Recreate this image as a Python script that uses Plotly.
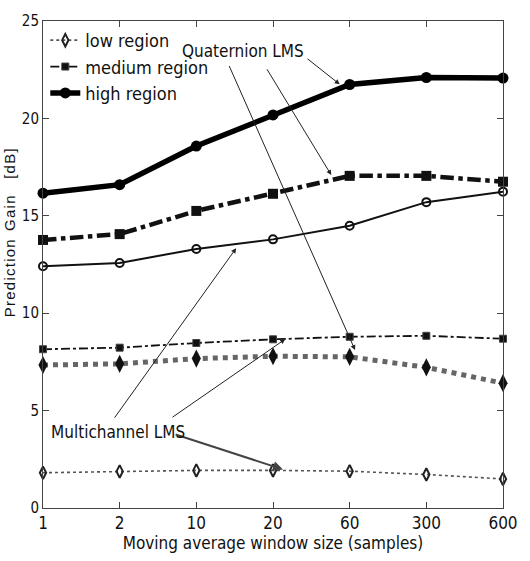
import plotly.graph_objects as go

window_sizes = ["1", "2", "10", "20", "60", "300", "600"]

quat_low = [7.34, 7.40, 7.67, 7.79, 7.76, 7.22, 6.41]
quat_medium = [13.76, 14.06, 15.25, 16.13, 17.05, 17.05, 16.75]
quat_high = [16.16, 16.60, 18.58, 20.18, 21.74, 22.10, 22.07]

multi_low = [1.81, 1.88, 1.93, 1.93, 1.89, 1.72, 1.49]
multi_medium = [8.15, 8.23, 8.47, 8.66, 8.79, 8.84, 8.69]
multi_high = [12.41, 12.58, 13.30, 13.79, 14.49, 15.70, 16.24]

y_ticks = [0, 5, 10, 15, 20, 25]

FONT = "DejaVu Sans Condensed, Liberation Sans Narrow, Arial Narrow, sans-serif"

fig = go.Figure()

# Multichannel LMS (thin lines, open markers)
fig.add_trace(go.Scatter(
    x=window_sizes, y=multi_low, mode="lines+markers", name="low region",
    line=dict(color="#555555", width=1.6, dash="dot"),
    marker=dict(symbol="diamond-tall-open", size=9, color="#222222", line=dict(width=2)),
    cliponaxis=False, legendrank=1))
fig.add_trace(go.Scatter(
    x=window_sizes, y=multi_medium, mode="lines+markers", name="medium region",
    line=dict(color="#111111", width=1.8, dash="dashdot"),
    marker=dict(symbol="square", size=7, color="#111111", line=dict(width=1)),
    cliponaxis=False, legendrank=2))
fig.add_trace(go.Scatter(
    x=window_sizes, y=multi_high, mode="lines+markers", name="high region",
    line=dict(color="#111111", width=2),
    marker=dict(symbol="circle-open", size=8, color="#111111", line=dict(width=2)),
    cliponaxis=False, showlegend=False))

# Quaternion LMS (thick lines, filled markers)
fig.add_trace(go.Scatter(
    x=window_sizes, y=quat_low, mode="lines+markers", name="low region",
    line=dict(color="#666666", width=5, dash="dot"),
    marker=dict(symbol="diamond-tall", size=13, color="#111111"),
    cliponaxis=False, showlegend=False))
fig.add_trace(go.Scatter(
    x=window_sizes, y=quat_medium, mode="lines+markers", name="medium region",
    line=dict(color="#111111", width=4.5, dash="dashdot"),
    marker=dict(symbol="square", size=10, color="#111111"),
    cliponaxis=False, showlegend=False))
fig.add_trace(go.Scatter(
    x=window_sizes, y=quat_high, mode="lines+markers", name="high region",
    line=dict(color="#000000", width=5.5),
    marker=dict(symbol="circle", size=11, color="#000000"),
    cliponaxis=False, legendrank=3))

arrow_style = dict(showarrow=True, arrowhead=2, arrowsize=1, arrowwidth=1,
                   arrowcolor="#222222", axref="x", ayref="y", xref="x", yref="y", text="")

arrows = [
    # Quaternion LMS
    dict(x=3.87, y=21.75, ax=3.43, ay=23.12),
    dict(x=3.76, y=17.09, ax=2.91, ay=22.6),
    dict(x=4.07, y=8.11, ax=2.42, ay=22.77),
    # Multichannel LMS
    dict(x=2.52, y=13.34, ax=0.92, ay=4.56),
    dict(x=3.16, y=8.67, ax=1.67, ay=4.61),
    dict(x=3.13, y=1.98, ax=1.71, ay=3.80, arrowwidth=2, arrowcolor="#444444"),
]
annotations = []
for a in arrows:
    d = dict(arrow_style)
    d.update(a)
    annotations.append(d)

annotations.append(dict(x=2.61, y=23.45, xref="x", yref="y", text="Quaternion LMS",
                        showarrow=False, font=dict(family=FONT, size=17, color="#111111")))
annotations.append(dict(x=0.98, y=3.9, xref="x", yref="y", text="Multichannel LMS",
                        showarrow=False, font=dict(family=FONT, size=17, color="#111111")))

hs = "\u200a"
ylabel = "  ".join(hs.join(w) for w in ["Prediction", "Gain", "", "[dB]"])
annotations.append(dict(xref="paper", yref="paper", x=-0.073, y=0.565, xanchor="center", yanchor="middle",
                        text=ylabel, showarrow=False, textangle=-90,
                        font=dict(family="Liberation Sans, Arial, sans-serif", size=15, color="#111111")))

fig.update_layout(
    width=530, height=561,
    margin=dict(l=43, r=23, t=15, b=53),
    paper_bgcolor="white", plot_bgcolor="white",
    font=dict(family=FONT, size=17, color="#111111"),
    showlegend=True,
    legend=dict(x=0.005, y=0.998, xanchor="left", yanchor="top",
                bgcolor="rgba(255,255,255,0)", font=dict(family=FONT, size=18),
                itemwidth=30),
    annotations=annotations,
    xaxis=dict(type="category", categoryorder="array", categoryarray=window_sizes,
               range=[0, 6], showline=True, linecolor="#444444", linewidth=1, mirror="ticks",
               ticks="inside", ticklen=6, tickcolor="#444444", showgrid=False, zeroline=False,
               tickfont=dict(family=FONT, size=17),
               title=dict(text="Moving average window size (samples)", standoff=2,
                          font=dict(family=FONT, size=17))),
    yaxis=dict(range=[0, 25], tickvals=y_ticks, showline=True, linecolor="#444444", linewidth=1,
               mirror="ticks", ticks="inside", ticklen=6, tickcolor="#444444", showgrid=False,
               zeroline=False, tickfont=dict(family=FONT, size=15)),
)

fig.write_html("out.html")
